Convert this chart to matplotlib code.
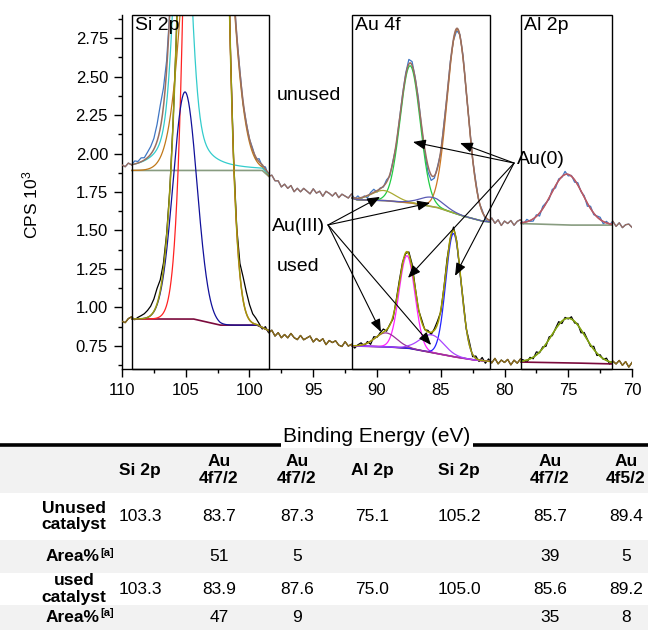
import numpy as np
import matplotlib
matplotlib.use('Agg')
import matplotlib.pyplot as plt
from matplotlib.patches import Rectangle
from matplotlib.lines import Line2D
from matplotlib.ticker import FixedLocator, MultipleLocator, FormatStrFormatter
from matplotlib import font_manager as fm

names = {f.name for f in fm.fontManager.ttflist}
NARROW = 'Liberation Sans Narrow' if 'Liberation Sans Narrow' in names else 'Liberation Sans'

plt.rcParams['font.family'] = ['Liberation Sans', 'DejaVu Sans']
plt.rcParams['mathtext.fontset'] = 'custom'
plt.rcParams['mathtext.rm'] = 'Liberation Sans'
plt.rcParams['mathtext.it'] = 'Liberation Sans:italic'
plt.rcParams['mathtext.bf'] = 'Liberation Sans:bold'

# ---------------- data ----------------
box_names = ['Si 2p', 'Au 4f', 'Al 2p']
box_hi = [109.24, 91.96, 78.71]
box_lo = [98.47, 81.14, 71.57]

# unused catalyst spectrum (upper trace)
unused_bg_E = [110, 99.0, 98.4, 97.6, 96.6, 94.5, 92.1, 91.6, 89.5, 87.4, 85.3, 83.3, 81.7, 80.0, 78.7, 75.0, 71.6, 70]
unused_bg_V = [1.89, 1.89, 1.845, 1.785, 1.76, 1.74, 1.715, 1.70, 1.695, 1.68, 1.65, 1.595, 1.56, 1.55, 1.545, 1.535, 1.535, 1.53]
unused_pk_center = [103.3, 105.25, 87.4, 83.7, 89.5, 85.7, 75.1]
unused_pk_height = [3.6, 2.3, 0.89, 1.20, 0.065, 0.06, 0.33]
unused_pk_fwhm = [3.18, 1.45, 1.85, 1.88, 2.2, 2.2, 2.9]
unused_pk_eta = [0, 0.5, 0, 0, 0, 0, 0]
unused_pk_color = ['#c07818', '#33cccc', '#22cc44', '#cc7722', '#aaaa33', '#5a5ab4', '#b85a66']
unused_resid = [
    2, -1, 3, 0, 4, 2,
    5, 3, 7, 10, 14, 22, 30, 24, 12,
    0, 2, -2, 3, -1, 2, 0, -3, 1, 2, -2, 0, 3, 1, -1, 2, 0, -2, 1, 3, -1, 0, 2, -3, 1, 0,
    2, -3, 4, -2, 3, -4, 2, -1, 3,
    -2, 3, -1, 4, -3, 2, -2, 3, 0, -3, 4, -1, 2, -4, 3, 1, -2, 3, -3, 2, 0, -2, 4, -1, 3, -2, 1, -3, 2, 4, -2, 1, -1, 3, -2, 2, -3, 1,
    2, 3, 6, 5, 2, 4, -2, -5, -8, -7, -3, 2, -2, 3, -1, 2, -2, -3, 1, 3, -2, 2, -1, 3, -2, 2, -3,
    -3, 4, -2, 3, -4, 2, -1, 3, -3, 2, 4, -2, 3, -1, -3, 2, -4, 3, 1, -2, 3, -3, 2, -1, 4, -2, 1, -3, 3, -1, 2, -4, 3, -2, 1, 3, -3, 2, -1, 4, -2, 3, -3, 1, 2, -2]

# used catalyst spectrum (lower trace)
used_bg_E = [110, 109.2, 104.4, 102.3, 99.4, 98.5, 97.4, 96.6, 94.5, 93.0, 92.0, 89.4, 87.5, 85.6, 84.0, 82.5, 81.2, 79.0, 78.7, 75.0, 71.6, 70]
used_bg_V = [0.905, 0.925, 0.925, 0.885, 0.885, 0.85, 0.815, 0.81, 0.785, 0.765, 0.75, 0.745, 0.735, 0.705, 0.68, 0.66, 0.65, 0.645, 0.645, 0.64, 0.633, 0.632]
used_pk_center = [103.4, 105.06, 87.65, 84.0, 89.3, 85.7, 75.0]
used_pk_height = [10.9, 1.475, 0.60, 0.80, 0.09, 0.115, 0.29]
used_pk_fwhm = [2.355, 2.19, 1.46, 1.41, 2.0, 2.2, 3.1]
used_pk_eta = [0, 0, 0, 0, 0, 0, 0]
used_pk_color = ['#ff2222', '#10109a', '#ff22ff', '#2222ff', '#993399', '#aa44ff', '#80a010']
used_resid = [
    1, -2, 2, 3, -1, 2,
    4, 6, 9, 12, 16, 20, 14, 8, 4,
    0, 2, -1, 3, -2, 1, 0, 2, -3, 1, 2, -1, 0, 3, -2, 1, 2, -1, 3, 2, 1, 4, 15, 30, 28, 20,
    12, 8, 3, -2, 3, -3, 2, -4, 2,
    -3, 2, -2, 4, -1, -3, 3, -2, 1, 4, -3, 2, -1, 3, -4, 2, 0, 3, -2, -3, 4, -1, 2, -3, 1, 3, -2, 2, -4, 3, -1, 2, 4, -2, 1, -3, 2, 3,
    2, -1, 3, 6, 2, -2, 3, -1, 2, -3, 2, 4, -2, 1, 3, -1, 4, 2, -2, 3, -1, 4, -3, 3, -2, 4, -3,
    3, -2, 4, -3, 2, -1, 3, -4, 2, -2, 3, 1, -3, 2, -2, 4, -1, 2, -3, 3, -2, 1, 4, -3, 2, -1, 3, -2, 2, -4, 3, 1, -2, 4, -3, 2, -1, 3, -3, 2, -1, 4, -2, 3, -4, 2]
resid_unit = 0.005

# annotations (label position, arrow tips) in data coordinates
au3_label = (94.08, 1.523)
au3_origin = (93.84, 1.536)
au3_tips = [(89.76, 1.718), (85.84, 1.679), (89.69, 0.841), (85.76, 0.756)]
au0_label = (79.0, 1.958)
au0_origin = (79.25, 1.938)
au0_tips = [(87.18, 2.075), (83.49, 2.068), (87.57, 1.192), (83.88, 1.205)]

# table
table_cols = ['Si 2p', 'Au\n4f7/2', 'Au\n4f7/2', 'Al 2p', 'Si 2p', 'Au\n4f7/2', 'Au\n4f5/2']
row_labels = ['Unused\ncatalyst', 'Area%', 'used\ncatalyst', 'Area%']
unused_vals = ['103.3', '83.7', '87.3', '75.1', '105.2', '85.7', '89.4']
unused_area = ['', '51', '5', '', '', '39', '5']
used_vals = ['103.3', '83.9', '87.6', '75.0', '105.0', '85.6', '89.2']
used_area = ['', '47', '9', '', '', '35', '8']

# ---------------- figure ----------------
W, H = 648, 630
fig = plt.figure(figsize=(W / 100, H / 100), dpi=100)
def fx(px):
    return px / W
def fy(py):
    return 1 - py / H

ax = fig.add_axes([fx(122), fy(369), 510 / W, 354 / H])
ax.set_xlim(110, 70)
ax.set_ylim(0.60, 2.90)

E = np.linspace(110, 70, 1601)

def peak(x, c, h, w, eta):
    d2 = (x - c) ** 2 / w ** 2
    return h * ((1 - eta) * np.exp(-4 * np.log(2) * d2) + eta / (1 + 4 * d2))

def bgline(x, bE, bV):
    return np.interp(x, np.array(bE)[::-1], np.array(bV)[::-1])

def box_of(c):
    for i in range(len(box_lo)):
        if box_lo[i] <= c <= box_hi[i]:
            return i
    return None

inbox = np.zeros_like(E, dtype=bool)
for lo, hi in zip(box_lo, box_hi):
    inbox |= (E >= lo) & (E <= hi)

def draw_spectrum(bE, bV, cs, hs, ws, etas, cols, resid, raw_col, out_col, env_cols, base_col):
    base = bgline(E, bE, bV)
    comps = [peak(E, c, h, w, e) for c, h, w, e in zip(cs, hs, ws, etas)]
    env = base + np.sum(comps, axis=0)
    Er = np.linspace(110, 70, len(resid))
    raw = bgline(Er, bE, bV) + np.sum([peak(Er, c, h, w, e) for c, h, w, e in zip(cs, hs, ws, etas)], axis=0) \
        + resid_unit * np.array(resid)
    ax.plot(Er, raw, color=raw_col, lw=0.9, zorder=2)
    for i, (lo, hi) in enumerate(zip(box_lo, box_hi)):
        m = (E >= lo) & (E <= hi)
        ax.plot(E[m], base[m], color=base_col, lw=1.2, zorder=3)
        for c, comp, col in zip(cs, comps, cols):
            if box_of(c) == i:
                ax.plot(E[m], base[m] + comp[m], color=col, lw=0.9, zorder=3)
        ax.plot(E[m], env[m], color=env_cols[i], lw=1.1, zorder=4)
    raw_fine = np.interp(E, Er[::-1], raw[::-1])
    out = np.where(inbox, np.nan, raw_fine)
    ax.plot(E, out, color=out_col, lw=1.0, zorder=4)

draw_spectrum(unused_bg_E, unused_bg_V, unused_pk_center, unused_pk_height, unused_pk_fwhm,
              unused_pk_eta, unused_pk_color, unused_resid, '#3f76c4', '#9a6e60',
              ['#9a6e60', '#9a6e60', '#b85a66'], '#889c80')
draw_spectrum(used_bg_E, used_bg_V, used_pk_center, used_pk_height, used_pk_fwhm,
              used_pk_eta, used_pk_color, used_resid, 'black', '#8b6b1b',
              ['#9a9a10', '#a09a00', '#80a010'], '#7b0a3c')

# boxes and labels
for name, lo, hi in zip(box_names, box_lo, box_hi):
    ax.add_patch(Rectangle((lo, 0.60), hi - lo, 2.30, fill=False, ec='black', lw=1.0,
                           zorder=5, clip_on=False))
    ax.text(hi - 0.25, 2.885, name, ha='left', va='top', fontsize=14, zorder=6)

ax.text(97.84, 2.38, 'unused', ha='left', va='center', fontsize=14)
ax.text(97.84, 1.263, 'used', ha='left', va='center', fontsize=14)
ax.text(au3_label[0], au3_label[1], 'Au(III)', ha='right', va='center', fontsize=14, zorder=6)
ax.text(au0_label[0], au0_label[1], 'Au(0)', ha='left', va='center', fontsize=14, zorder=6)
aprops = dict(arrowstyle='-|>,head_length=0.55,head_width=0.22', color='black', lw=0.8,
              shrinkA=0, shrinkB=0, mutation_scale=14)
for tip in au3_tips:
    ax.annotate('', xy=tip, xytext=au3_origin, arrowprops=aprops, zorder=6)
for tip in au0_tips:
    ax.annotate('', xy=tip, xytext=au0_origin, arrowprops=aprops, zorder=6)

# axes styling
for s in ['top', 'right']:
    ax.spines[s].set_visible(False)
for s in ['left', 'bottom']:
    ax.spines[s].set_linewidth(1.0)
ax.set_xticks([110, 105, 100, 95, 90, 85, 80, 75, 70])
ax.xaxis.set_minor_locator(MultipleLocator(2.5))
ax.yaxis.set_major_locator(FixedLocator([0.75, 1.0, 1.25, 1.5, 1.75, 2.0, 2.25, 2.5, 2.75]))
ax.yaxis.set_minor_locator(FixedLocator([0.625, 0.875, 1.125, 1.375, 1.625, 1.875, 2.125, 2.375, 2.625, 2.875]))
ax.yaxis.set_major_formatter(FormatStrFormatter('%.2f'))
ax.tick_params(which='major', direction='out', length=6, width=1, labelsize=12, pad=4)
ax.tick_params(which='minor', direction='out', length=3, width=1)

fig.text(fx(30), fy(205), 'CPS 10$^3$', rotation=90, ha='center', va='center', fontsize=12.5)

# x label with thick rule behind it
fig.add_artist(Line2D([0, 1], [fy(445), fy(445)], color='black', lw=2.6,
                      transform=fig.transFigure, zorder=1))
fig.text(fx(377), fy(436), 'Binding Energy (eV)', ha='center', va='center', fontsize=15,
         bbox=dict(fc='white', ec='none', pad=1.5), zorder=3)

# ---------------- table ----------------
col_x = [140, 219, 297, 372, 459, 550, 626]
label_x = 74
row_tops = [447, 493, 540, 573, 605, 630]
row_fill = ['#f2f2f2', 'white', '#f2f2f2', 'white', '#f2f2f2']
for i in range(5):
    fig.add_artist(Rectangle((0, fy(row_tops[i + 1])), 1, (row_tops[i + 1] - row_tops[i]) / H,
                             transform=fig.transFigure, fc=row_fill[i], ec='none', zorder=0))

def centre(i):
    return fy((row_tops[i] + row_tops[i + 1]) / 2)

tfs = 12.5
for x, t in zip(col_x, table_cols):
    fig.text(fx(x), centre(0), t, ha='center', va='center', fontsize=tfs, fontweight='bold',
             family=NARROW, linespacing=1.15, multialignment='center')

rows_vals = [unused_vals, unused_area, used_vals, used_area]
renderer = fig.canvas.get_renderer()
for r, (lab, vals) in enumerate(zip(row_labels, rows_vals)):
    yc = centre(r + 1)
    if lab == 'Area%':
        t = fig.text(fx(label_x - 28), yc, lab, ha='left', va='center', fontsize=tfs,
                     fontweight='bold', family=NARROW)
        bb = t.get_window_extent(renderer=renderer)
        fig.text(bb.x1 / W + 0.001, yc + 4 / H, '[a]', ha='left', va='center', fontsize=8,
                 fontweight='bold', family=NARROW)
    else:
        fig.text(fx(label_x), yc, lab, ha='center', va='center', fontsize=tfs, fontweight='bold',
                 family=NARROW, linespacing=1.15, multialignment='center')
    for x, v in zip(col_x, vals):
        if v:
            fig.text(fx(x), yc, v, ha='center', va='center', fontsize=tfs, family=NARROW)

fig.savefig('out.png', dpi=100)
